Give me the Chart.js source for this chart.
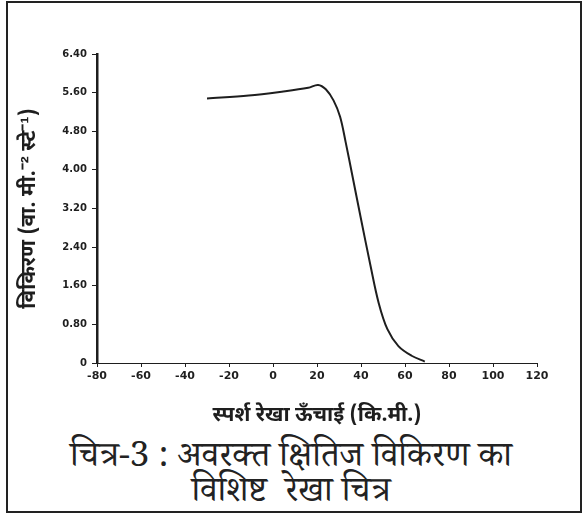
<!DOCTYPE html>
<html>
<head>
<meta charset="utf-8">
<script src="https://cdn.jsdelivr.net/npm/chart.js@4.4.1/dist/chart.umd.min.js"></script>
<style>
  html, body { margin: 0; padding: 0; background: #fff; }
  #wrap { position: relative; width: 582px; height: 524px; overflow: hidden; }
  #frame {
    position: absolute; left: 6px; top: 1px; width: 572px; height: 508px;
    border: 2px solid #222;
  }
  #chartBox { position: absolute; left: 0; top: 0; width: 582px; height: 430px; }
  #caption {
    position: absolute; left: 0; top: 443px; width: 582px; text-align: center;
    font-family: "Noto Serif Devanagari", "Noto Sans Devanagari", "Lohit Devanagari", serif;
    font-size: 35px; line-height: 35px; color: #222;
  }
</style>
</head>
<body>
<div id="wrap">
  <div id="frame"></div>
  <div id="chartBox"><canvas id="chartRad" width="582" height="430"></canvas></div>
  <div id="caption">चित्र-3 : अवरक्त क्षितिज विकिरण का<br>विशिष्ट &nbsp;रेखा चित्र</div>
</div>
<script>
'use strict';
// ── données ──────────────────────────────────────────────────
const tangentHeight = [-30, -11, 4, 16, 20.5, 24, 27.5, 30.5, 33, 36, 39.7, 44.3, 48, 52, 57, 63, 69];   // km
const radiance      = [5.48, 5.54, 5.62, 5.70, 5.76, 5.67, 5.44, 5.10, 4.58, 3.90, 3.05, 2.02, 1.25, 0.70, 0.35, 0.15, 0.03];
const xTicks = [-80, -60, -40, -20, 0, 20, 40, 60, 80, 100, 120];
const yTicks = [0, 0.8, 1.6, 2.4, 3.2, 4.0, 4.8, 5.6, 6.4];

const xTitle = 'स्पर्श रेखा ऊँचाई (कि.मी.)';
const yTitle = 'विकिरण (वा. मी.⁻² स्टे⁻¹)';

const ink = '#1e1e1e';
const deva = '"Noto Sans Devanagari", "Noto Serif Devanagari", "Lohit Devanagari", sans-serif';

const points = tangentHeight.map((x, i) => ({ x, y: radiance[i] }));

new Chart(document.getElementById('chartRad').getContext('2d'), {
  type: 'scatter',
  data: {
    datasets: [{
      data: points,
      showLine: true,
      borderColor: ink,
      borderWidth: 2,
      pointRadius: 0,
      tension: 0.35
    }]
  },
  options: {
    responsive: false,
    animation: false,
    layout: { padding: { left: 0, right: 45, top: 54, bottom: 0 } },
    plugins: { legend: { display: false }, tooltip: { enabled: false } },
    scales: {
      x: {
        type: 'linear',
        min: -80, max: 120,
        afterBuildTicks: s => { s.ticks = xTicks.map(v => ({ value: v })); },
        afterFit: s => { s.height = 67; },
        border: { color: ink, width: 1 },
        grid: { drawOnChartArea: false, color: ink, tickLength: 4 },
        ticks: {
          color: ink, padding: 3,
          font: { family: 'DejaVu Sans', size: 11, weight: 'bold' },
          maxRotation: 0, autoSkip: false
        },
        title: {
          display: true, text: xTitle, color: ink,
          font: { family: deva, size: 21, weight: 'bold' },
          padding: { top: 0, bottom: 0 }
        }
      },
      y: {
        type: 'linear',
        min: 0, max: 6.4,
        afterBuildTicks: s => { s.ticks = yTicks.map(v => ({ value: v })); },
        afterFit: s => { s.width = 97; },
        border: { color: ink, width: 2.5 },
        grid: { drawOnChartArea: false, color: ink, tickLength: 5 },
        ticks: {
          color: ink, padding: 5,
          font: { family: 'DejaVu Sans', size: 10, weight: 'bold' },
          callback: v => v === 0 ? '0' : v.toFixed(2)
        },
        title: {
          display: true, text: yTitle, color: ink,
          font: { family: deva, size: 21, weight: 'bold' },
          padding: { top: 18, bottom: 0 }
        }
      }
    }
  }
});
</script>
</body>
</html>
